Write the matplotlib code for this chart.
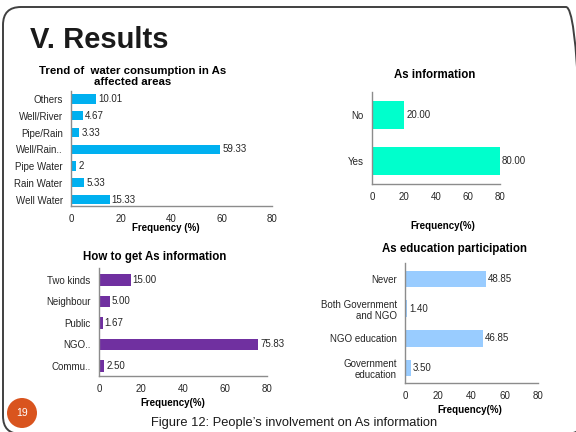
import matplotlib
matplotlib.use("Agg")
import matplotlib.pyplot as plt
from matplotlib.patches import FancyBboxPatch, Circle

plt.rcParams['font.family'] = ['Liberation Sans', 'DejaVu Sans']

W, H = 576, 432

# data (top to bottom as in the slide)
water_cats = ['Others', 'Well/River', 'Pipe/Rain', 'Well/Rain..', 'Pipe Water', 'Rain Water', 'Well Water']
water_vals = [10.01, 4.67, 3.33, 59.33, 2, 5.33, 15.33]
water_lbls = ['10.01', '4.67', '3.33', '59.33', '2', '5.33', '15.33']

info_cats = ['No', 'Yes']
info_vals = [20.00, 80.00]

how_cats = ['Two kinds', 'Neighbour', 'Public', 'NGO..', 'Commu..']
how_vals = [15.00, 5.00, 1.67, 75.83, 2.50]

edu_cats = ['Never', 'Both Government\nand NGO', 'NGO education', 'Government\neducation']
edu_vals = [48.85, 1.40, 46.85, 3.50]

xticks = [0, 20, 40, 60, 80]

fig = plt.figure(figsize=(W / 100, H / 100), dpi=100)


def px_axes(l, t, r, b):
    return fig.add_axes([l / W, 1 - b / H, (r - l) / W, (b - t) / H])


def ftext(x, y, s, **kw):
    fig.text(x / W, 1 - y / H, s, **kw)


def bar_chart(ax, cats, vals, color, height, ylim, labels=None, fmt='{:.2f}'):
    y = list(range(len(cats)))
    ax.barh(y, vals, height=height, color=color)
    ax.set_yticks(y)
    ax.set_yticklabels(cats, linespacing=1.1)
    ax.set_ylim(*ylim)
    ax.set_xlim(0, 80)
    ax.set_xticks(xticks)
    for i, v in enumerate(vals):
        s = labels[i] if labels else fmt.format(v)
        ax.annotate(s, (v, i), xytext=(1.5, 0), textcoords='offset points',
                    va='center', ha='left', fontsize=7, color='#262626')
    for sp in ['top', 'right']:
        ax.spines[sp].set_visible(False)
    for sp in ['left', 'bottom']:
        ax.spines[sp].set_color('#8c8c8c')
        ax.spines[sp].set_linewidth(1)
    ax.tick_params(length=0, labelsize=7, colors='#262626', pad=6)
    ax.tick_params(axis='x', pad=6)


# slide frame (runs off the right and bottom edges)
frame = FancyBboxPatch((0.03, (H - 434) / 100), 5.81, 4.27, boxstyle='round,pad=0,rounding_size=0.18',
                       transform=fig.dpi_scale_trans, fill=False, edgecolor='#404040', lw=1.4)
fig.patches.append(frame)

ftext(30, 40, 'V. Results', fontsize=21, fontweight='bold', ha='left', va='center', color='#1a1a1a')

# chart 1
ax1 = px_axes(71, 91, 272, 206)
bar_chart(ax1, water_cats, water_vals, '#00B0F0', 0.55, (6.38, -0.48), labels=water_lbls)
ftext(133, 76.5, 'Trend of  water consumption in As\naffected areas', fontsize=8.2,
      fontweight='bold', ha='center', va='center', linespacing=1.05)
ftext(166, 228, 'Frequency (%)', fontsize=7, fontweight='bold', ha='center', va='center')

# chart 2
ax2 = px_axes(372, 92, 500, 184)
bar_chart(ax2, info_cats, info_vals, '#00FFCC', 0.59, (1.5, -0.5))
ftext(435, 75, 'As information', fontsize=8.3, fontweight='bold', ha='center', va='center')
ftext(443, 226, 'Frequency(%)', fontsize=7, fontweight='bold', ha='center', va='center')

# chart 3
ax3 = px_axes(99, 268, 267, 376)
bar_chart(ax3, how_cats, how_vals, '#7030A0', 0.55, (4.47, -0.56))
ftext(155, 257, 'How to get As information', fontsize=8.3, fontweight='bold', ha='center', va='center')
ftext(173, 403, 'Frequency(%)', fontsize=7, fontweight='bold', ha='center', va='center')

# chart 4
ax4 = px_axes(405, 263, 538, 383)
bar_chart(ax4, edu_cats, edu_vals, '#99CCFF', 0.56, (3.5, -0.54))
ftext(454, 249, 'As education participation', fontsize=8.3, fontweight='bold', ha='center', va='center')
ftext(470, 410, 'Frequency(%)', fontsize=7, fontweight='bold', ha='center', va='center')

# footer
ftext(294, 423, 'Figure 12: People\u2019s involvement on As information', fontsize=9.3,
      ha='center', va='center', color='#1a1a1a')
circ = Circle((0.22, (H - 413) / 100), 0.15, transform=fig.dpi_scale_trans,
              facecolor='#D9541E', edgecolor='none')
fig.patches.append(circ)
ftext(22, 413, '19', fontsize=7.5, color='white', ha='center', va='center')

fig.savefig('out.png', dpi=100)
